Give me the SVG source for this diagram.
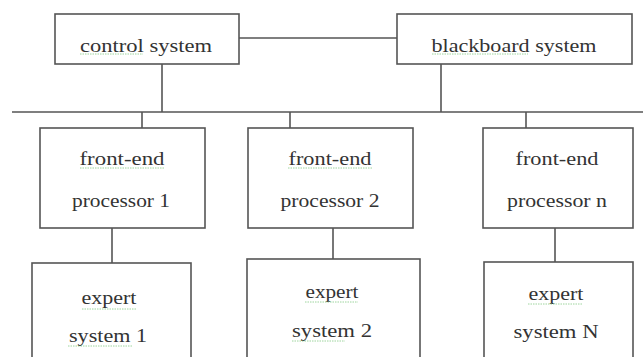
<svg xmlns="http://www.w3.org/2000/svg" width="643" height="357" viewBox="0 0 643 357">
<style>
.box{fill:#fff;stroke:#555;stroke-width:1.6}
.ln{stroke:#555;stroke-width:1.6;fill:none}
.sp{stroke:#8c8;stroke-width:1;stroke-dasharray:1.5 1;opacity:0.8}
</style>
<rect width="643" height="357" fill="#fff"/>
<g id="connectors">
<line class="ln" x1="239" y1="38" x2="397" y2="38"/>
<line class="ln" x1="162" y1="64" x2="162" y2="112"/>
<line class="ln" x1="441" y1="64" x2="441" y2="112"/>
<line class="ln" x1="12" y1="112" x2="643" y2="112"/>
<line class="ln" x1="142" y1="112" x2="142" y2="128"/>
<line class="ln" x1="290" y1="112" x2="290" y2="128"/>
<line class="ln" x1="526" y1="112" x2="526" y2="128"/>
<line class="ln" x1="112" y1="228" x2="112" y2="263"/>
<line class="ln" x1="333" y1="228" x2="333" y2="259"/>
<line class="ln" x1="555" y1="228" x2="555" y2="262"/>
</g>
<g font-family="Liberation Serif, DejaVu Serif, serif" font-size="19" fill="#333" text-anchor="middle">
<g id="control">
<rect class="box" x="55" y="14" width="184" height="50"/>
<text x="146" y="52" textLength="132" lengthAdjust="spacingAndGlyphs">control system</text>
<line class="sp" x1="80" y1="54" x2="143" y2="54"/>
</g>
<g id="blackboard">
<rect class="box" x="397" y="14" width="235" height="50"/>
<text x="514" y="52" textLength="165" lengthAdjust="spacingAndGlyphs">blackboard system</text>
<line class="sp" x1="432" y1="54" x2="528" y2="54"/>
</g>
<g id="fep1">
<rect class="box" x="40" y="128" width="165" height="100"/>
<text x="122" y="165" textLength="85" lengthAdjust="spacingAndGlyphs">front-end</text>
<text x="121" y="207" textLength="98" lengthAdjust="spacingAndGlyphs">processor 1</text>
<line class="sp" x1="80" y1="168" x2="165" y2="168"/>
</g>
<g id="fep2">
<rect class="box" x="248" y="128" width="165" height="100"/>
<text x="330" y="165" textLength="83" lengthAdjust="spacingAndGlyphs">front-end</text>
<text x="330" y="207" textLength="99" lengthAdjust="spacingAndGlyphs">processor 2</text>
<line class="sp" x1="288" y1="168" x2="372" y2="168"/>
</g>
<g id="fepn">
<rect class="box" x="483" y="128" width="150" height="100"/>
<text x="557" y="165" textLength="83" lengthAdjust="spacingAndGlyphs">front-end</text>
<text x="557" y="207" textLength="100" lengthAdjust="spacingAndGlyphs">processor n</text>
</g>
<g id="expert1">
<rect class="box" x="32" y="263" width="159" height="100"/>
<text x="109" y="304" textLength="55" lengthAdjust="spacingAndGlyphs">expert</text>
<text x="108" y="342" textLength="78" lengthAdjust="spacingAndGlyphs">system 1</text>
<line class="sp" x1="82" y1="309" x2="137" y2="309"/>
<line class="sp" x1="68" y1="346" x2="132" y2="346"/>
</g>
<g id="expert2">
<rect class="box" x="247" y="259" width="173" height="104"/>
<text x="332" y="298" textLength="53" lengthAdjust="spacingAndGlyphs">expert</text>
<text x="332" y="337" textLength="80" lengthAdjust="spacingAndGlyphs">system 2</text>
<line class="sp" x1="305" y1="302" x2="358" y2="302"/>
<line class="sp" x1="292" y1="341" x2="345" y2="341"/>
</g>
<g id="expertn">
<rect class="box" x="484" y="262" width="149" height="101"/>
<text x="556" y="300" textLength="55" lengthAdjust="spacingAndGlyphs">expert</text>
<text x="556" y="338" textLength="85" lengthAdjust="spacingAndGlyphs">system N</text>
<line class="sp" x1="528" y1="304" x2="583" y2="304"/>
</g>
</g>
</svg>
